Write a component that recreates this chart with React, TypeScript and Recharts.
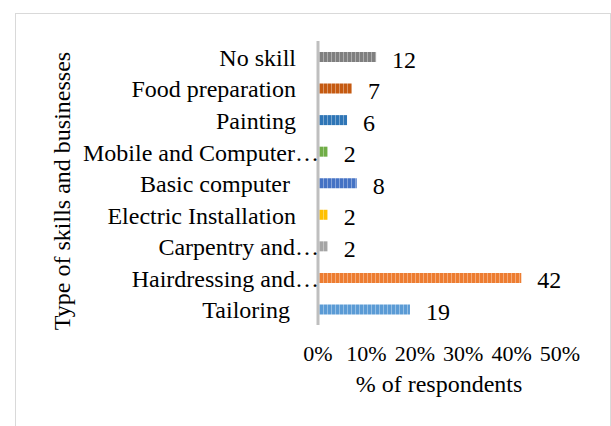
import React from 'react';
import { BarChart, Bar, XAxis, YAxis, Cell, LabelList, Label } from 'recharts';

// categories listed top to bottom as they appear on the chart
const skills = [
  'No skill',
  'Food preparation',
  'Painting',
  'Mobile and Computer…',
  'Basic computer ',
  'Electric Installation',
  'Carpentry and…',
  'Hairdressing and…',
  'Tailoring ',
];
const respondents = [12, 7, 6, 2, 8, 2, 2, 42, 19];
const barColors = [
  '#7f7f7f',
  '#c55a11',
  '#2e75b6',
  '#70ad47',
  '#4472c4',
  '#ffc000',
  '#a5a5a5',
  '#ed7d31',
  '#5b9bd5',
];
const xTicks = [0, 10, 20, 30, 40, 50];

const data = skills.map((name, i) => ({ name, value: respondents[i] }));

const FONT = 'Liberation Serif, DejaVu Serif, serif';
const txt = { fontFamily: FONT };

const SkillTick = (props: any) => {
  const { x, y, payload } = props;
  const label: string = payload.value;
  const cut = label.endsWith('…');
  return (
    <text
      x={cut ? x + 9 : x - 14}
      y={y}
      dy="0.38em"
      textAnchor="end"
      fontSize={24}
      fill="#000"
      style={{ ...txt, whiteSpace: 'pre' }}
    >
      {label}
    </text>
  );
};

const App = () => {
  return (
    <div style={{ position: 'absolute', left: 0, top: 0, width: 611, height: 426, overflow: 'hidden', background: '#fff', fontFamily: FONT }}>
      <div
        style={{
          position: 'absolute',
          left: 15,
          top: 13,
          width: 594,
          height: 440,
          border: '1px solid #d9d9d9',
          borderBottom: 'none',
        }}
      />
      <div style={{ position: 'absolute', left: 0, top: 0 }}>
        <BarChart
          width={611}
          height={426}
          data={data}
          layout="vertical"
          barSize={10}
          margin={{ top: 41, right: 51, bottom: 41, left: 0 }}
          style={txt}
        >
          <defs>
            {barColors.map((c, i) => (
              <pattern key={i} id={`stripe-${i}`} width={4} height={10} patternUnits="userSpaceOnUse">
                <rect width={4} height={10} fill={c} />
                <rect x={3} width={1} height={10} fill="#fff" opacity={0.35} />
              </pattern>
            ))}
          </defs>
          <XAxis
            type="number"
            domain={[0, 50]}
            ticks={xTicks}
            tickFormatter={(v) => `${v}%`}
            axisLine={false}
            tickLine={false}
            tickMargin={14}
            height={60}
            tick={{ fontSize: 22, fill: '#000', style: txt }}
            interval={0}
          >
            <Label
              content={(p: any) => {
                const vb = p.viewBox;
                return (
                  <text x={vb.x + vb.width / 2} y={392} textAnchor="middle" fontSize={24} fill="#000" style={txt}>
                    % of respondents
                  </text>
                );
              }}
            />
          </XAxis>
          <YAxis
            type="category"
            dataKey="name"
            width={318}
            axisLine={{ stroke: '#bfbfbf', strokeWidth: 3 }}
            tickLine={false}
            tick={<SkillTick />}
            interval={0}
          >
            <Label
              content={(p: any) => {
                const vb = p.viewBox;
                const cy = vb.y + vb.height / 2 + 8;
                return (
                  <text
                    x={70}
                    y={cy}
                    textAnchor="middle"
                    fontSize={24}
                    fill="#000"
                    style={txt}
                    transform={`rotate(-90 70 ${cy})`}
                  >
                    Type of skills and businesses
                  </text>
                );
              }}
            />
          </YAxis>
          <Bar dataKey="value" isAnimationActive={false}>
            {data.map((d, i) => (
              <Cell key={d.name} fill={`url(#stripe-${i})`} />
            ))}
            <LabelList
              dataKey="value"
              position="right"
              offset={16}
              dy={2}
              fontSize={24}
              fill="#000"
              style={txt}
            />
          </Bar>
        </BarChart>
      </div>
    </div>
  );
};

export default App;
